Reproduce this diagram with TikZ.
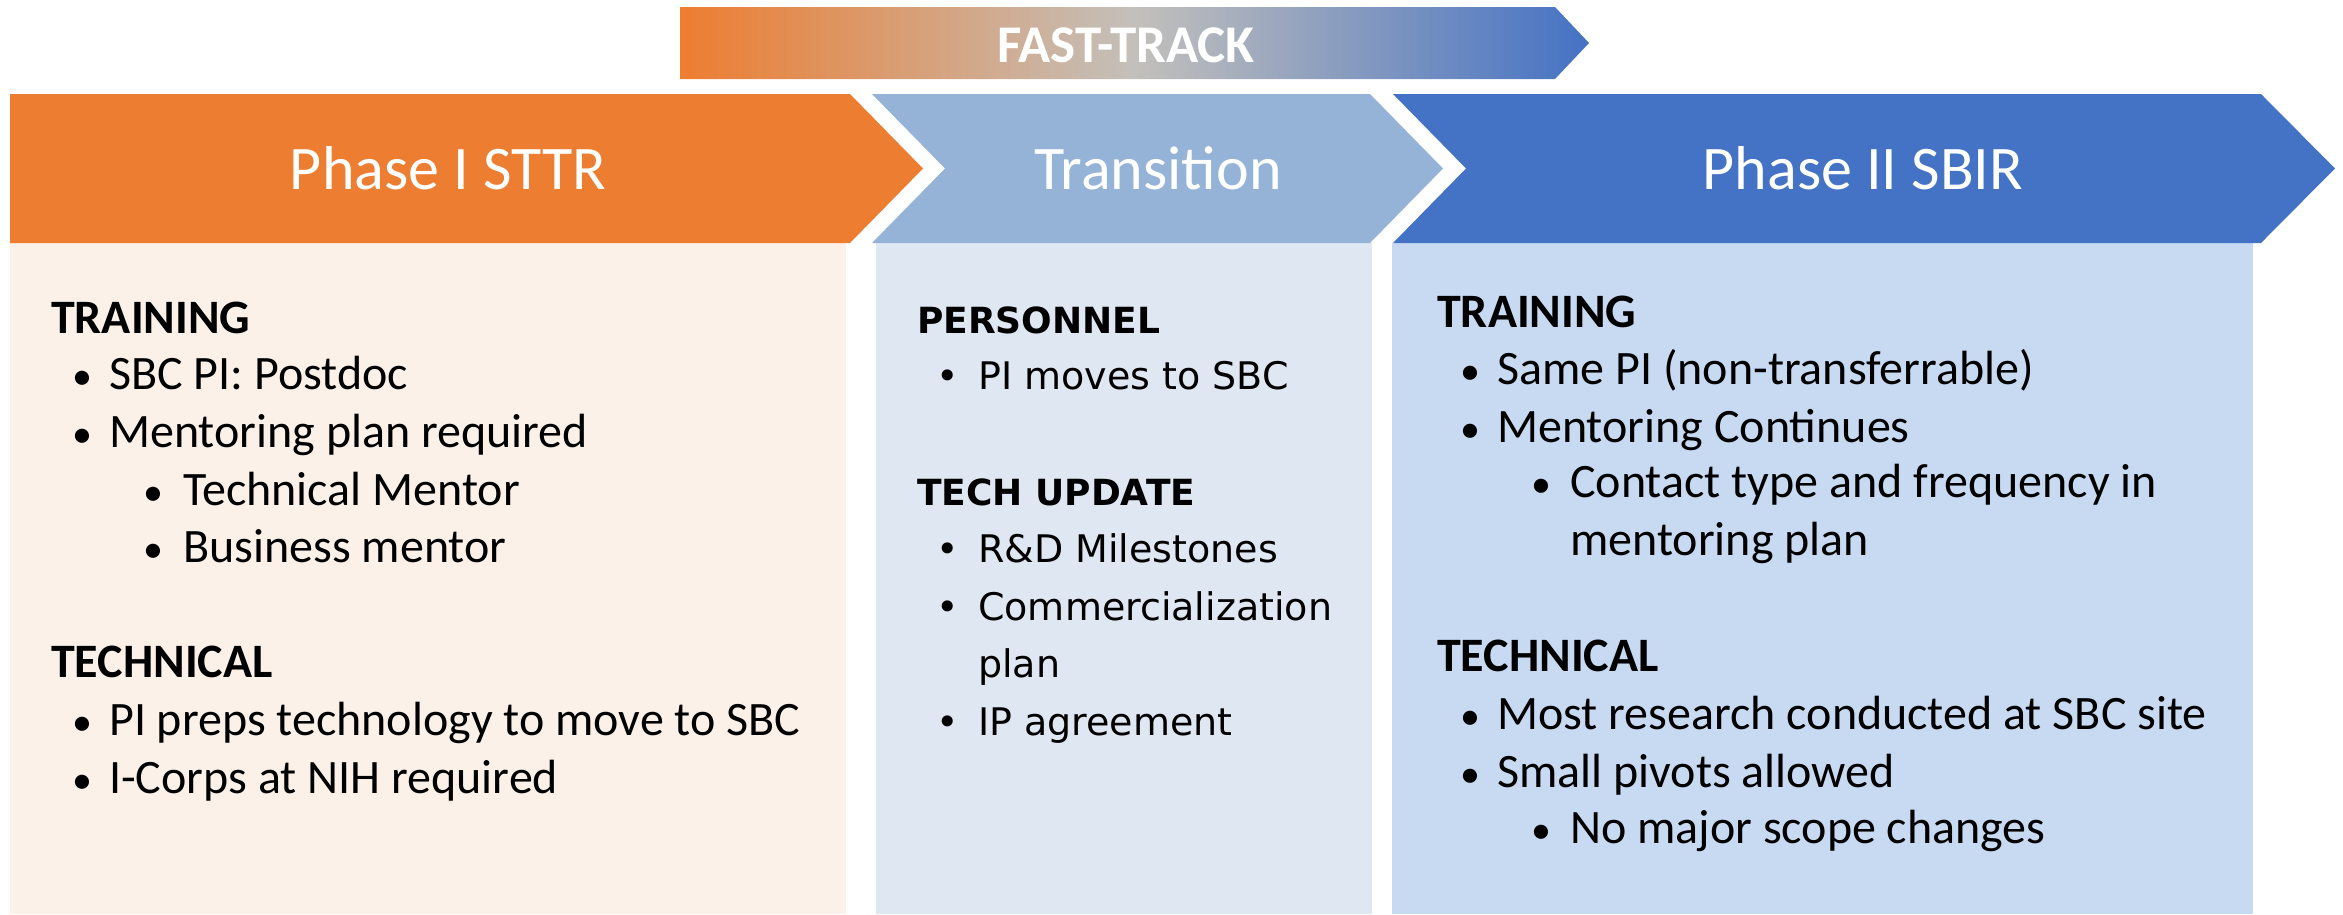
\documentclass[tikz,border=0pt]{standalone}
\usepackage{fontspec}
\newfontfamily\calfont{Carlito}
\newfontfamily\verfont{DejaVu Sans}
\definecolor{orangeC}{HTML}{ED7D31}
\definecolor{orangeL}{HTML}{FCF1E9}
\definecolor{transC}{HTML}{95B3D7}
\definecolor{transL}{HTML}{DFE7F2}
\definecolor{blueC}{HTML}{4472C4}
\definecolor{blueL}{HTML}{C7DAF1}
\definecolor{midgrey}{HTML}{C3C0BB}
\tikzset{
  title/.style={font=\calfont\fontsize{62}{74}\selectfont, text=white, inner sep=0pt},
  cal/.style={font=\calfont\fontsize{48}{58}\selectfont, inner sep=0pt, anchor=base west},
  calb/.style={font=\calfont\bfseries\fontsize{48}{58}\selectfont, inner sep=0pt, anchor=base west},
  calbul/.style={font=\calfont\fontsize{40}{58}\selectfont, inner sep=0pt, anchor=base},
  ver/.style={font=\verfont\fontsize{38}{46}\selectfont, inner sep=0pt, anchor=base west},
  verbul/.style={font=\verfont\fontsize{38}{46}\selectfont, inner sep=0pt, anchor=base},
  verb/.style={font=\verfont\bfseries\fontsize{36}{46}\selectfont, inner sep=0pt, anchor=base west}
}
\begin{document}
\begin{tikzpicture}[x=1pt,y=-1pt]
\useasboundingbox (0,0) rectangle (2343,914);
% fast-track arrow
\shade[left color=orangeC, right color=blueC, middle color=midgrey]
  (680,7) -- (1555,7) -- (1589,43) -- (1555,79) -- (680,79) -- cycle;
\node[font=\calfont\bfseries\fontsize{53}{60}\selectfont, text=white, inner sep=0pt] (ft) at (1126,45) {FAST-TRACK};
% bodies
\fill[orangeL] (10,243) rectangle (846,914);
\fill[transL] (876,243) rectangle (1372,914);
\fill[blueL] (1392,243) rectangle (2253,914);
% chevrons
\fill[orangeC] (10,94) -- (850,94) -- (923,168.5) -- (850,243) -- (10,243) -- cycle;
\fill[transC] (872,94) -- (1370,94) -- (1443,168.5) -- (1370,243) -- (872,243) -- (945,168.5) -- cycle;
\fill[blueC] (1393,94) -- (2261,94) -- (2335,168.5) -- (2261,243) -- (1393,243) -- (1466,168.5) -- cycle;
\node[title] (t1) at (448,168) {Phase I STTR};
\node[title] (t2) at (1158,168) {Transition};
\node[title] (t3) at (1863,168) {Phase II SBIR};
% left panel
\node[calb] (l1) at (51,333) {TRAINING};
\node[calbul] (lb2) at (82,389) {•};
\node[cal] (l2) at (109,389) {SBC PI: Postdoc};
\node[calbul] (lb3) at (82,447) {•};
\node[cal] (l3) at (109,447) {Mentoring plan required};
\node[calbul] (lb4) at (153,505) {•};
\node[cal] (l4) at (183,505) {Technical Mentor};
\node[calbul] (lb5) at (153,562) {•};
\node[cal] (l5) at (183,562) {Business mentor};
\node[calb] (l6) at (51,677) {TECHNICAL};
\node[calbul] (lb7) at (82,735) {•};
\node[cal] (l7) at (109,735) {PI preps technology to move to SBC};
\node[calbul] (lb8) at (82,793) {•};
\node[cal] (l8) at (109,793) {I-Corps at NIH required};
% middle panel
\node[verb] (m1) at (917,333) {PERSONNEL};
\node[verbul] (mb2) at (948,389) {•};
\node[ver] (m2) at (978,389) {PI moves to SBC};
\node[verb] (m3) at (917,505) {TECH UPDATE};
\node[verbul] (mb4) at (948,562) {•};
\node[ver] (m4) at (978,562) {R\&D Milestones};
\node[verbul] (mb5) at (948,620) {•};
\node[ver] (m5) at (978,620) {Commercialization};
\node[ver] (m6) at (978,677) {plan};
\node[verbul] (mb7) at (948,735) {•};
\node[ver] (m7) at (978,735) {IP agreement};
% right panel
\node[calb] (r1) at (1437,327) {TRAINING};
\node[calbul] (rb2) at (1470,384) {•};
\node[cal] (r2) at (1497,384) {Same PI (non-transferrable)};
\node[calbul] (rb3) at (1470,442) {•};
\node[cal] (r3) at (1497,442) {Mentoring Continues};
\node[calbul] (rb4) at (1541,497) {•};
\node[cal] (r4) at (1570,497) {Contact type and frequency in};
\node[cal] (r5) at (1570,555) {mentoring plan};
\node[calb] (r6) at (1437,671) {TECHNICAL};
\node[calbul] (rb7) at (1470,729) {•};
\node[cal] (r7) at (1497,729) {Most research conducted at SBC site};
\node[calbul] (rb8) at (1470,787) {•};
\node[cal] (r8) at (1497,787) {Small pivots allowed};
\node[calbul] (rb9) at (1541,843) {•};
\node[cal] (r9) at (1570,843) {No major scope changes};
\end{tikzpicture}
\end{document}
